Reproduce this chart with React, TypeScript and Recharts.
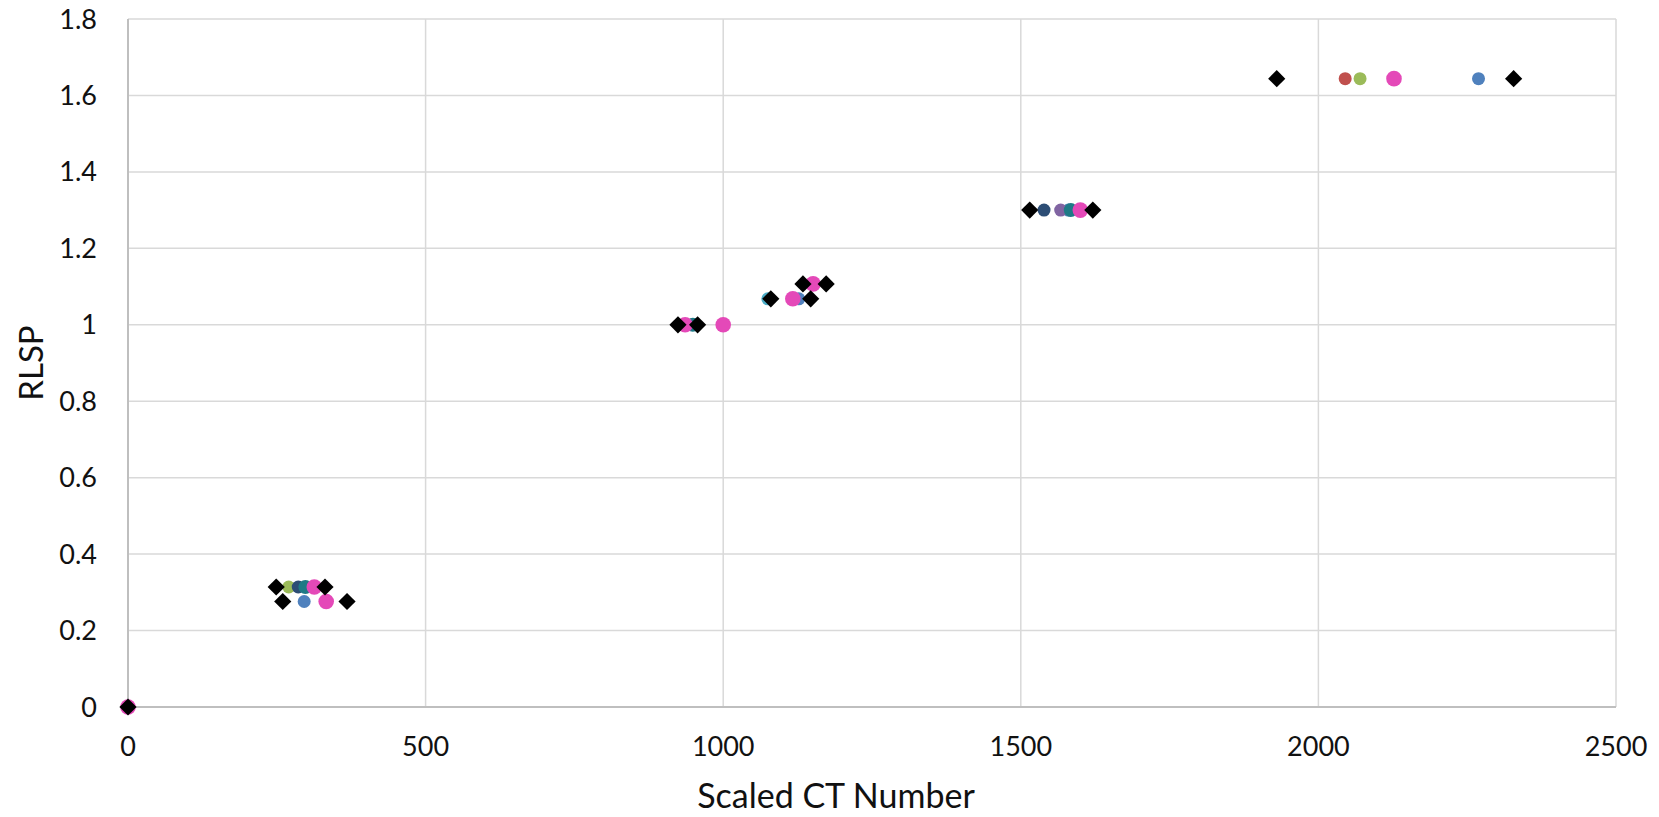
import { ScatterChart, Scatter, XAxis, YAxis, CartesianGrid } from "recharts";

type Pt = { x: number; y: number };

// scaled CT number vs RLSP, one list per series
const blueSeries: Pt[] = [
  { x: 0, y: 0 },
  { x: 296, y: 0.276 },
  { x: 1127, y: 1.068 },
  { x: 1580, y: 1.3 },
  { x: 2269, y: 1.644 },
];
const redSeries: Pt[] = [
  { x: 0, y: 0 },
  { x: 2045, y: 1.644 },
];
const greenSeries: Pt[] = [
  { x: 0, y: 0 },
  { x: 270, y: 0.314 },
  { x: 2070, y: 1.644 },
];
const purpleSeries: Pt[] = [{ x: 1567, y: 1.3 }];
const cyanSeries: Pt[] = [{ x: 1075, y: 1.068 }];
const navySeries: Pt[] = [
  { x: 286, y: 0.314 },
  { x: 1539, y: 1.3 },
];
const tealSeries: Pt[] = [
  { x: 298, y: 0.314 },
  { x: 949, y: 1.0 },
  { x: 1584, y: 1.3 },
];
const pinkSeries: Pt[] = [
  { x: 0, y: 0 },
  { x: 313, y: 0.314 },
  { x: 333, y: 0.276 },
  { x: 936, y: 1.0 },
  { x: 1000, y: 1.0 },
  { x: 1117, y: 1.068 },
  { x: 1151, y: 1.107 },
  { x: 1600, y: 1.3 },
  { x: 2127, y: 1.644 },
];
// black diamonds = range limits
const limitSeries: Pt[] = [
  { x: 0, y: 0 },
  { x: 249, y: 0.314 },
  { x: 331, y: 0.314 },
  { x: 260, y: 0.276 },
  { x: 368, y: 0.276 },
  { x: 924, y: 1.0 },
  { x: 957, y: 1.0 },
  { x: 1080, y: 1.068 },
  { x: 1147, y: 1.068 },
  { x: 1134, y: 1.107 },
  { x: 1173, y: 1.107 },
  { x: 1515, y: 1.3 },
  { x: 1621, y: 1.3 },
  { x: 1930, y: 1.644 },
  { x: 2328, y: 1.644 },
];

const xTicks = [0, 500, 1000, 1500, 2000, 2500];
const yTicks = [0, 0.2, 0.4, 0.6, 0.8, 1, 1.2, 1.4, 1.6, 1.8];

const circleSeries = [
  { name: "blue", data: blueSeries, color: "#4F81BD", r: 6.5 },
  { name: "red", data: redSeries, color: "#C0504D", r: 6.5 },
  { name: "green", data: greenSeries, color: "#9BBB59", r: 6.5 },
  { name: "purple", data: purpleSeries, color: "#8064A2", r: 6.5 },
  { name: "cyan", data: cyanSeries, color: "#4BACC6", r: 6.5 },
  { name: "navy", data: navySeries, color: "#2C4D75", r: 6.5 },
  { name: "teal", data: tealSeries, color: "#1F7A86", r: 7 },
  { name: "pink", data: pinkSeries, color: "#E449B8", r: 7.8 },
];

const FONT = "Lato, 'Open Sans', sans-serif";

const circleShape = (color: string, r: number) => (p: any) =>
  <circle cx={p.cx} cy={p.cy} r={r} fill={color} />;

const diamondShape = (p: any) => {
  const d = 8.6;
  const { cx, cy } = p;
  return (
    <polygon
      points={`${cx},${cy - d} ${cx + d},${cy} ${cx},${cy + d} ${cx - d},${cy}`}
      fill="#000"
    />
  );
};

export default function App() {
  return (
    <div style={{ position: "absolute", left: 0, top: 0, background: "#fff" }}>
      <ScatterChart
        width={1659}
        height={817}
        margin={{ top: 19, right: 43, bottom: 0, left: 0 }}
      >
        <CartesianGrid stroke="#D9D9D9" strokeWidth={1.5} />
        <XAxis
          type="number"
          dataKey="x"
          domain={[0, 2500]}
          ticks={xTicks}
          height={110}
          tickLine={false}
          tickSize={0}
          tickMargin={30}
          axisLine={{ stroke: "#BFBFBF", strokeWidth: 2 }}
          tick={{ fill: "#111", fontSize: 27, fontFamily: FONT }}
          label={{
            content: () => (
              <text
                x={836}
                y={794}
                textAnchor="middle"
                dominantBaseline="central"
                fill="#111"
                fontSize={34}
                fontFamily={FONT}
              >
                Scaled CT Number
              </text>
            ),
          }}
        />
        <YAxis
          type="number"
          dataKey="y"
          domain={[0, 1.8]}
          ticks={yTicks}
          width={128}
          tickLine={false}
          tickSize={0}
          tickMargin={31}
          axisLine={{ stroke: "#BFBFBF", strokeWidth: 2 }}
          tick={{ fill: "#111", fontSize: 27, fontFamily: FONT }}
          label={{
            content: () => (
              <text
                x={30}
                y={363}
                textAnchor="middle"
                dominantBaseline="central"
                transform="rotate(-90 30 363)"
                fill="#111"
                fontSize={33}
                fontFamily={FONT}
              >
                RLSP
              </text>
            ),
          }}
        />
        {circleSeries.map((s) => (
          <Scatter
            key={s.name}
            name={s.name}
            data={s.data}
            fill={s.color}
            shape={circleShape(s.color, s.r)}
            isAnimationActive={false}
          />
        ))}
        <Scatter
          name="limits"
          data={limitSeries}
          fill="#000"
          shape={diamondShape}
          isAnimationActive={false}
        />
      </ScatterChart>
    </div>
  );
}
